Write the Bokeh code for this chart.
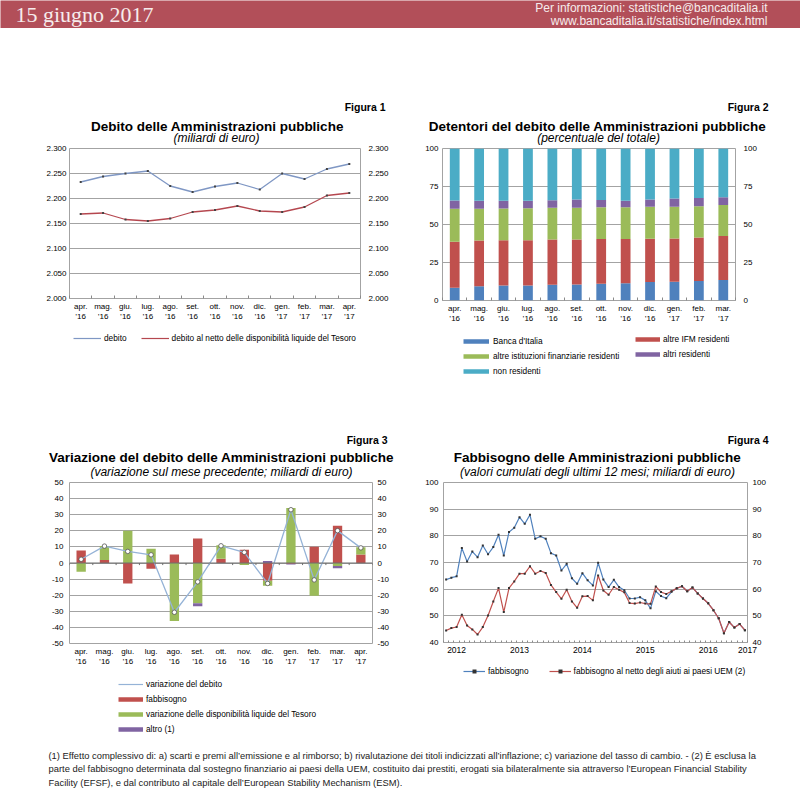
from bokeh.plotting import figure
from bokeh.models import Range1d, FixedTicker, LinearAxis, Legend, LegendItem, Span, ColumnDataSource
from bokeh.layouts import column, row
from bokeh.embed import file_html
from bokeh.resources import INLINE
from bokeh.core.properties import value

FONT = "Liberation Sans"
SERIF = "Liberation Serif"

# ---------------- data ----------------
months13 = ["apr.\n’16", "mag.\n’16", "giu.\n’16", "lug.\n’16", "ago.\n’16", "set.\n’16", "ott.\n’16",
            "nov.\n’16", "dic.\n’16", "gen.\n’17", "feb.\n’17", "mar.\n’17", "apr.\n’17"]
months12 = months13[:12]

# Figura 1 (miliardi di euro)
debito = [2233, 2244, 2250, 2255, 2225, 2213, 2224, 2231, 2218, 2250, 2239, 2259, 2269]
debito_netto = [2169, 2171, 2158, 2155, 2160, 2173, 2177, 2185, 2175, 2173, 2183, 2206, 2211]
f1_ticks = [2000, 2050, 2100, 2150, 2200, 2250, 2300]
f1_labels = ["2.000", "2.050", "2.100", "2.150", "2.200", "2.250", "2.300"]

# Figura 2 (percentuale del totale)
banca_italia = [8.4, 9.3, 9.9, 9.9, 10.4, 10.6, 11.0, 11.3, 12.1, 12.4, 12.8, 13.5]
altre_ifm = [30.2, 30.2, 29.8, 29.8, 29.8, 29.6, 29.4, 29.1, 28.5, 28.4, 28.7, 28.9]
altre_ist = [21.7, 20.8, 20.8, 21.0, 20.9, 20.9, 21.0, 21.0, 21.0, 20.8, 20.5, 20.5]
altri_res = [5.5, 5.3, 5.1, 4.9, 4.9, 5.3, 4.8, 4.2, 4.8, 5.5, 5.5, 5.1]
non_res = [34.2, 34.4, 34.4, 34.4, 34.0, 33.6, 33.8, 34.4, 33.6, 32.9, 32.5, 32.0]
f2_ticks = [0, 25, 50, 75, 100]

# Figura 3 (variazione sul mese precedente)
fabbisogno_m = [7.8, 1.8, -12.7, -3.5, 5.3, 15.2, 2.7, 8.2, -11.1, -0.5, 10.1, 23.2, 5.3]
disponibilita = [-5.5, 8.7, 20.1, 8.8, -36.1, -25.0, 8.4, -1.3, -3.1, 34.1, -20.3, -1.8, 4.5]
altro = [0.0, 0.0, 0.0, 0.0, 0.0, -1.8, 0.0, 0.0, 1.2, -0.5, 0.0, -1.4, 0.0]
variazione = [2.3, 10.5, 7.2, 5.1, -30.6, -11.7, 10.7, 6.6, -12.7, 33.1, -10.5, 20.1, 9.4]
f3_ticks = [-50, -40, -30, -20, -10, 0, 10, 20, 30, 40, 50]

# Figura 4 (valori cumulati 12 mesi)
fabb_12m = [63.6, 64.3, 64.8, 75.4, 70.4, 74.1, 72.0, 76.4, 73.1, 75.8, 80.4, 72.6, 81.4, 83.0, 87.0,
            84.5, 87.9, 78.9, 79.8, 78.9, 73.5, 72.6, 67.0, 69.5, 64.1, 62.0, 66.0, 63.3, 61.4, 69.9,
            63.6, 60.8, 63.5, 60.8, 59.6, 56.5, 56.5, 57.0, 55.8, 52.8, 59.2, 57.4, 56.6, 59.0, 60.3,
            61.1, 59.2, 60.6, 58.4, 56.5, 54.7, 52.1, 49.1, 43.5, 47.7, 45.6, 46.9, 44.6]
fabb_12m_netto = [44.5, 45.4, 45.8, 50.4, 46.4, 44.9, 43.0, 45.8, 50.1, 55.4, 60.4, 51.4, 60.4, 62.9, 65.8,
                  65.8, 68.6, 65.8, 66.8, 66.1, 61.6, 58.9, 56.4, 59.8, 55.4, 53.0, 57.3, 57.4, 55.8, 65.1,
                  59.5, 57.9, 60.8, 59.8, 58.8, 54.8, 54.6, 55.0, 54.6, 54.5, 61.0, 58.9, 58.2, 59.2, 60.3,
                  61.1, 59.2, 60.6, 58.4, 56.5, 54.7, 52.1, 49.1, 43.5, 47.7, 45.6, 46.9, 44.6]
f4_year_pos = [2, 14, 26, 38, 50, 57.5]
f4_year_lab = ["2012", "2013", "2014", "2015", "2016", "2017"]
f4_ticks = [40, 50, 60, 70, 80, 90, 100]

C_BLUE = "#4f81bd"
C_RED = "#c0504d"
C_GREEN = "#9bbb59"
C_PURPLE = "#8064a2"
C_TEAL = "#4bacc6"
GRID = "#a3a3a3"
OFF = ([-50, -40], [-50, -50])  # legend-only placeholder, outside the visible range


def no_align(f):
    try:
        f.frame_align = False
    except Exception:
        pass


# ---------------- helpers ----------------
def text_fig(w, h, bg="white"):
    f = figure(width=w, height=h, x_range=Range1d(0, w), y_range=Range1d(h, 0),
               output_backend="svg", toolbar_location=None, min_border=0,
               x_axis_location=None, y_axis_location=None)
    no_align(f)
    f.xgrid.visible = False
    f.ygrid.visible = False
    f.outline_line_color = None
    f.background_fill_color = bg
    f.border_fill_color = bg
    return f


def put_text(f, x, y, txt, size, style="normal", align="left", baseline="middle", color="#000000", font=FONT):
    f.text(x=[x], y=[y], text=[txt], text_font=value(font), text_font_size=value(size),
           text_font_style=style, text_align=align, text_baseline=baseline, text_color=color)


def title_fig(w, h, fig_label, fx, fy, title, tx, ty, sub, sx, sy):
    f = text_fig(w, h)
    put_text(f, fx, fy, fig_label, "10.5px", "bold", "right")
    put_text(f, tx, ty, title, "13.5px", "bold", "center")
    put_text(f, sx, sy, sub, "12px", "italic", "center")
    return f


def style_axis(ax, standoff, size="8px"):
    ax.axis_line_color = None
    ax.major_tick_line_color = None
    ax.major_tick_in = 0
    ax.major_tick_out = 0
    ax.minor_tick_line_color = None
    ax.major_label_standoff = standoff
    ax.major_label_text_font = FONT
    ax.major_label_text_font_size = size
    ax.major_label_text_color = "#000000"


def chart_fig(w, h, xr, yr, left, right, top, bottom):
    p = figure(width=w, height=h, x_range=xr, y_range=yr, output_backend="svg",
               toolbar_location=None, min_border_left=left, min_border_right=right,
               min_border_top=top, min_border_bottom=bottom)
    no_align(p)
    p.outline_line_color = GRID
    p.xgrid.visible = False
    p.ygrid.grid_line_color = GRID
    p.ygrid.grid_line_width = 1
    return p


def y_axes(p, ticks, labels, sl, sr):
    p.yaxis[0].ticker = FixedTicker(ticks=ticks)
    p.yaxis[0].major_label_overrides = {t: l for t, l in zip(ticks, labels)}
    style_axis(p.yaxis[0], sl)
    ax = LinearAxis(ticker=FixedTicker(ticks=ticks),
                    major_label_overrides={t: l for t, l in zip(ticks, labels)})
    style_axis(ax, sr)
    p.add_layout(ax, "right")


def x_axis_cat(p, labels, minor=True):
    n = len(labels)
    xa = p.xaxis[0]
    xa.ticker = FixedTicker(ticks=list(range(n)), minor_ticks=[i - 0.5 for i in range(n + 1)] if minor else [])
    xa.major_label_overrides = {i: l for i, l in enumerate(labels)}
    style_axis(xa, 3)
    if minor:
        xa.minor_tick_line_color = "#8a8a8a"
        xa.minor_tick_in = 3
        xa.minor_tick_out = 0


def make_legend(f, entries, loc, orientation="vertical", gw=25, spacing=5, standoff=3):
    items = []
    for label, kind, color in entries:
        rs = []
        if kind == "bar":
            rs.append(f.line(x=OFF[0], y=OFF[1], line_color=color, line_width=4.5))
        elif kind == "line":
            rs.append(f.line(x=OFF[0], y=OFF[1], line_color=color, line_width=1.2))
        elif kind == "linemark":
            rs.append(f.line(x=OFF[0], y=OFF[1], line_color=color, line_width=1.2))
            rs.append(f.scatter(x=OFF[0], y=OFF[1], marker="square", size=2.5, fill_color="#333333",
                                line_color=None))
        items.append(LegendItem(label=label, renderers=rs))
    lg = Legend(items=items, location=loc, orientation=orientation, glyph_width=gw, glyph_height=10,
                label_height=10, label_standoff=standoff, spacing=spacing, padding=0, margin=0,
                border_line_color=None, background_fill_alpha=0, label_text_font=FONT,
                label_text_font_size="8.3px", label_text_color="#000000")
    f.add_layout(lg)


# ---------------- header ----------------
header = text_fig(800, 28, bg="#b24f59")
put_text(header, 15, 14, "15 giugno 2017", "22px", color="#f6ecec", font=SERIF)
put_text(header, 767, 7, "Per informazioni: statistiche@bancaditalia.it", "12px", align="right", color="#f6ecec")
put_text(header, 767, 20, "www.bancaditalia.it/statistiche/index.html", "12px", align="right", color="#f6ecec")

# ---------------- Figura 1 ----------------
t1 = title_fig(400, 117, "Figura 1", 385, 78, "Debito delle Amministrazioni pubbliche", 217, 97.5,
               "(miliardi di euro)", 216, 109)
x13 = list(range(13))
p1 = chart_fig(400, 183, Range1d(-0.5, 12.5), Range1d(2000, 2300), 69, 40, 3, 30)
y_axes(p1, f1_ticks, f1_labels, 3, 8)
x_axis_cat(p1, months13)
p1.line(x13, debito, line_color="#7f97c4", line_width=1.3)
p1.scatter(x13, debito, marker="square", size=2, fill_color="#444444", line_color=None)
p1.line(x13, debito_netto, line_color="#b5474f", line_width=1.3)
p1.scatter(x13, debito_netto, marker="square", size=2, fill_color="#444444", line_color=None)
l1 = text_fig(400, 67)
make_legend(l1, [("debito", "line", "#7f97c4"),
                 ("debito al netto delle disponibilità liquide del Tesoro", "line", "#b5474f")],
            (73, 52), "horizontal", gw=28, spacing=14)

# ---------------- Figura 2 ----------------
t2 = title_fig(400, 117, "Figura 2", 368, 78, "Detentori del debito delle Amministrazioni pubbliche", 197, 97.5,
               "(percentuale del totale)", 198, 109)
p2 = chart_fig(400, 185, Range1d(-0.5, 11.5), Range1d(0, 100), 42, 65, 3, 30)
y_axes(p2, f2_ticks, [str(t) for t in f2_ticks], 4, 8)
x_axis_cat(p2, months12)
src2 = ColumnDataSource(dict(x=list(range(12)), banca=banca_italia, ifm=altre_ifm, ist=altre_ist,
                             altri=altri_res, nonres=non_res))
p2.vbar_stack(["banca", "ifm", "ist", "altri", "nonres"], x="x", width=0.4,
              fill_color=[C_BLUE, C_RED, C_GREEN, C_PURPLE, C_TEAL], line_color=None, source=src2)
l2 = text_fig(400, 65)
make_legend(l2, [("Banca d'Italia", "bar", C_BLUE),
                 ("altre istituzioni finanziarie residenti", "bar", C_GREEN),
                 ("non residenti", "bar", C_TEAL)], (63, 19), gw=26, standoff=4)
make_legend(l2, [("altre IFM residenti", "bar", C_RED),
                 ("altri residenti", "bar", C_PURPLE)], (235, 36), gw=25, standoff=3)

# ---------------- Figura 3 ----------------
t3 = title_fig(400, 84, "Figura 3", 387, 44, "Variazione del debito delle Amministrazioni pubbliche", 221, 62,
               "(variazione sul mese precedente; miliardi di euro)", 221, 76)
p3 = chart_fig(400, 194, Range1d(-0.5, 12.5), Range1d(-50, 50), 69, 28, 3, 30)
y_axes(p3, f3_ticks, [str(t) for t in f3_ticks], 6, 5)
x_axis_cat(p3, months13, minor=False)
pos_base = [0.0] * 13
neg_base = [0.0] * 13
for vals, col in [(fabbisogno_m, C_RED), (disponibilita, C_GREEN), (altro, C_PURPLE)]:
    bots, tops = [], []
    for i, v in enumerate(vals):
        if v >= 0:
            b = pos_base[i]; t = b + v; pos_base[i] = t
        else:
            b = neg_base[i]; t = b + v; neg_base[i] = t
        bots.append(b); tops.append(t)
    p3.vbar(x=x13, bottom=bots, top=tops, width=0.4, fill_color=col, line_color=None)
p3.add_layout(Span(location=0, dimension="width", line_color="#6e6e6e", line_width=1))
bounds = [i - 0.5 for i in range(14)]
p3.segment(x0=bounds, y0=[0] * 14, x1=bounds, y1=[-1.3] * 14, line_color="#6e6e6e", line_width=1)
p3.line(x13, variazione, line_color="#95b3d7", line_width=1.3)
p3.scatter(x13, variazione, marker="circle", size=4.5, fill_color="white", line_color="#555555", line_width=0.8)
l3 = text_fig(400, 65)
make_legend(l3, [("variazione del debito", "line", "#95b3d7"),
                 ("fabbisogno", "bar", C_RED),
                 ("variazione delle disponibilità liquide del Tesoro", "bar", C_GREEN),
                 ("altro (1)", "bar", C_PURPLE)], (118, 4), gw=25, standoff=3)

# ---------------- Figura 4 ----------------
t4 = title_fig(400, 84, "Figura 4", 368, 44, "Fabbisogno delle Amministrazioni pubbliche", 197, 62,
               "(valori cumulati degli ultimi 12 mesi; miliardi di euro)", 197, 76)
n4 = len(fabb_12m)
x58 = list(range(n4))
p4 = chart_fig(400, 183, Range1d(-0.5, n4 - 0.5), Range1d(40, 100), 43, 53, 3, 20)
y_axes(p4, f4_ticks, [str(t) for t in f4_ticks], 5, 5)
xa4 = p4.xaxis[0]
xa4.ticker = FixedTicker(ticks=f4_year_pos, minor_ticks=[i - 0.5 for i in range(n4 + 1)])
xa4.major_label_overrides = {p: l for p, l in zip(f4_year_pos, f4_year_lab)}
style_axis(xa4, 4, "8.5px")
xa4.minor_tick_line_color = "#8a8a8a"
xa4.minor_tick_in = 2
xa4.minor_tick_out = 0
p4.line(x58, fabb_12m, line_color="#4f81bd", line_width=1.2)
p4.scatter(x58, fabb_12m, marker="square", size=2, fill_color="#333333", line_color=None)
p4.line(x58, fabb_12m_netto, line_color="#c0504d", line_width=1.2)
p4.scatter(x58, fabb_12m_netto, marker="square", size=2, fill_color="#333333", line_color=None)
l4 = text_fig(400, 76)
make_legend(l4, [("fabbisogno", "linemark", "#4f81bd"),
                 ("fabbisogno al netto degli aiuti ai paesi UEM (2)", "linemark", "#c0504d")],
            (63, 62), "horizontal", gw=22, spacing=20)

# ---------------- footnote ----------------
foot = text_fig(800, 51)
note1 = ("(1) Effetto complessivo di: a) scarti e premi all’emissione e al rimborso; b) rivalutazione dei titoli "
         "indicizzati all’inflazione; c) variazione del tasso di cambio. - (2) È esclusa la")
note2 = ("parte del fabbisogno determinata dal sostegno finanziario ai paesi della UEM, costituito dai prestiti, "
         "erogati sia bilateralmente sia attraverso l’European Financial Stability")
note3 = "Facility (EFSF), e dal contributo al capitale dell’European Stability Mechanism (ESM)."
for yy, tx in [(16.5, note1), (30, note2), (43.5, note3)]:
    put_text(foot, 48, yy, tx, "9.4px", baseline="alphabetic", color="#222222")

layout = column(
    header,
    row(column(t1, p1, l1, spacing=0), column(t2, p2, l2, spacing=0), spacing=0),
    row(column(t3, p3, l3, spacing=0), column(t4, p4, l4, spacing=0), spacing=0),
    foot,
    spacing=0,
)

with open("out.html", "w") as fh:
    fh.write(file_html(layout, INLINE, title="Banca d'Italia"))
